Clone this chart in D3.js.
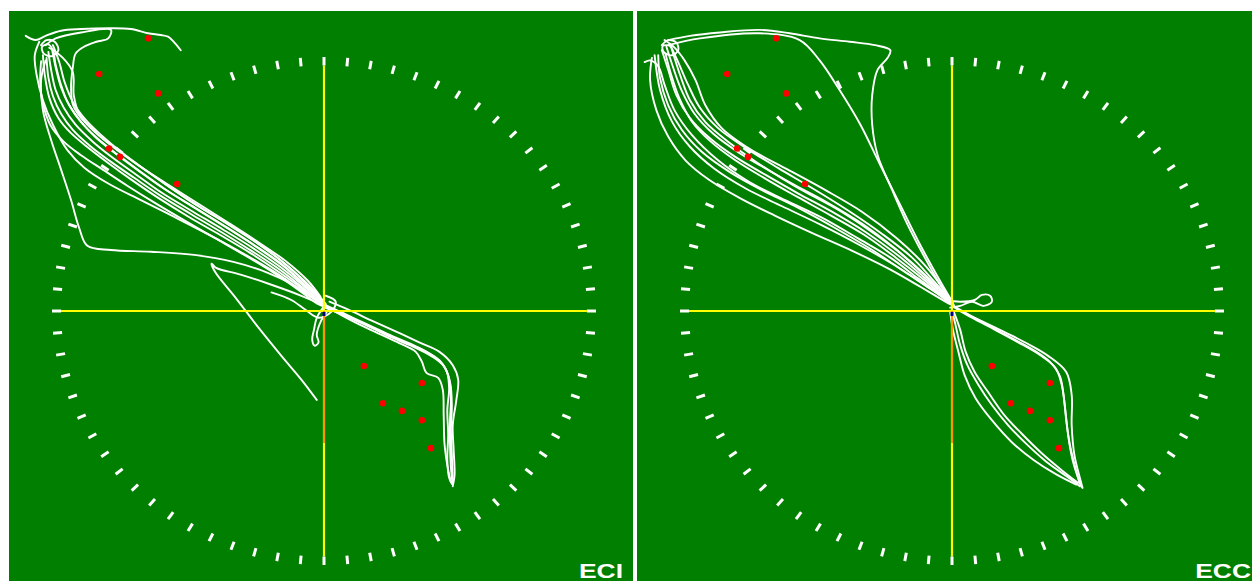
<!DOCTYPE html>
<html>
<head>
<meta charset="utf-8">
<script src="https://cdn.jsdelivr.net/npm/d3@7"></script>
<style>
  html, body { margin: 0; padding: 0; background: #ffffff; overflow: hidden; }
  svg { display: block; }
</style>
</head>
<body>
<svg id="chart" width="1252" height="581"></svg>
<script>
// Target positions (degrees), shared by both panels
const targets = [
  [-19.4, 32.2], [-24.8, 28.0], [-18.3, 25.7], [-23.7, 19.2], [-22.5, 18.2], [-16.2, 15.0],
  [4.4, -6.5], [10.8, -8.5], [6.5, -10.9], [8.6, -11.8], [10.8, -12.9], [11.8, -16.2]
];

// Vertical reference trace below fixation
const verticalTrace = [[0, 0], [0, -15.6]];

// Panel names
const panelLabels = ["ECI", "ECC"];

// Gaze traces, ECI condition (degrees)
const eciTraces = [
  [[-30.4,30.6],[-30.1,28.5],[-29.6,26.1],[-28.7,24.0],[-27.4,22.0],[-25.5,20.0],[-23.3,18.1],[-20.7,16.1],[-17.8,13.9],[-14.4,11.7],[-11.1,9.6],[-7.8,7.4],[-4.7,5.1],[-2.3,3.0],[-0.6,1.3],[0.2,0.6]],
  [[-29.9,31.4],[-29.2,29.4],[-28.6,27.0],[-27.7,24.7],[-26.3,22.6],[-24.5,20.7],[-22.4,18.8],[-19.9,16.8],[-17.0,14.6],[-13.7,12.3],[-10.4,10.1],[-7.2,7.9],[-4.2,5.5],[-2.0,3.3],[-0.5,1.6],[0.2,0.8]],
  [[-31.0,30.2],[-30.8,27.9],[-30.3,25.2],[-29.3,22.8],[-27.9,21.0],[-25.9,19.2],[-23.7,17.4],[-21.1,15.4],[-18.2,13.3],[-14.9,11.1],[-11.5,9.0],[-8.2,6.9],[-5.1,4.7],[-2.5,2.7],[-0.7,1.1],[0.3,0.5]],
  [[-30.0,30.9],[-29.6,28.8],[-29.0,26.4],[-28.1,24.3],[-26.8,22.3],[-25.0,20.4],[-22.8,18.5],[-20.3,16.5],[-17.4,14.3],[-14.0,12.0],[-10.7,9.8],[-7.5,7.6],[-4.5,5.3],[-2.2,3.1],[-0.5,1.4],[0.1,0.7]],
  [[-30.6,29.9],[-30.4,27.6],[-29.9,25.4],[-29.0,23.3],[-27.7,21.4],[-25.8,19.5],[-23.6,17.7],[-20.9,15.7],[-18.0,13.6],[-14.6,11.4],[-11.3,9.3],[-8.0,7.1],[-4.9,4.9],[-2.4,2.8],[-0.6,1.2],[0.2,0.5]],
  [[-30.3,31.1],[-28.8,29.9],[-27.7,28.2],[-27.6,25.5],[-27.0,23.3],[-25.5,21.4],[-23.5,19.6],[-21.0,17.6],[-18.0,15.4],[-14.8,13.0],[-11.4,10.8],[-8.0,8.5],[-4.8,6.0],[-2.2,3.6],[-0.4,1.6],[0.1,0.9]],
  [[-31.2,29.5],[-31.3,27.0],[-31.0,24.5],[-30.2,22.0],[-28.8,20.1],[-26.8,18.4],[-24.4,16.7],[-21.7,14.8],[-18.7,12.8],[-15.4,10.7],[-12.0,8.6],[-8.6,6.5],[-5.4,4.4],[-2.7,2.4],[-0.8,0.9],[0.3,0.4]],
  [[-31.4,31.8],[-31.9,30.2],[-31.7,27.9],[-31.0,24.9],[-29.9,22.0],[-28.3,19.0],[-26.4,16.9],[-23.7,15.0],[-20.2,13.1],[-16.3,11.0],[-12.5,8.9],[-8.6,6.6],[-5.0,4.3],[-2.2,2.2],[-0.3,0.9]],
  [[-30.7,29.6],[-31.2,27.3],[-31.0,23.7],[-30.1,20.2],[-29.0,16.7],[-27.9,13.1],[-27.0,9.8],[-26.1,7.7],[-23.5,7.2],[-19.1,7.0],[-14.1,6.6],[-10.0,5.8],[-6.4,4.6],[-3.4,3.1],[-0.9,1.3]],
  [[-32.9,32.5],[-31.8,32.0],[-30.7,32.5],[-29.0,33.1],[-26.8,33.3],[-23.5,33.4],[-21.3,33.3],[-19.4,32.8],[-18.0,32.6],[-17.2,32.4],[-16.5,31.7],[-15.8,30.8]],
  [[-30.7,31.4],[-29.6,32.2],[-26.8,32.9],[-23.5,33.2],[-23.8,32.2],[-25.1,31.8],[-26.5,31.2],[-27.4,30.4],[-27.7,28.8],[-27.9,26.5],[-27.7,24.4],[-26.8,22.8],[-25.1,21.0],[-22.9,19.1],[-20.3,17.1],[-17.3,15.0],[-13.9,12.7],[-10.5,10.4],[-7.2,8.1],[-4.1,5.8],[-1.8,3.6],[-0.4,1.7]],
  [[-31.2,31.4],[-30.6,32.0],[-29.7,31.8],[-29.3,30.8],[-30.0,30.1],[-30.9,30.4],[-31.1,31.2],[-30.4,31.5],[-29.9,30.8],[-29.6,29.1],[-29.0,26.7],[-28.2,24.5],[-26.9,22.5],[-25.2,20.5],[-23.0,18.6],[-20.5,16.6],[-17.6,14.4],[-14.2,12.2],[-10.9,10.0],[-7.7,7.8],[-4.6,5.5],[-2.2,3.2],[-0.5,1.5],[0.1,0.8]],
  [[-0.1,0.7],[-2.5,1.8],[-5.8,3.1],[-9.2,4.3],[-11.9,5.1],[-12.4,5.6],[-12.0,4.6],[-9.7,1.5],[-7.2,-2.0],[-4.7,-5.3],[-2.5,-8.1],[-0.8,-10.5]],
  [[-0.1,0.4],[-0.8,-0.8],[-1.1,-2.2],[-1.3,-3.4],[-1.0,-4.1],[-0.6,-3.7],[-0.8,-2.8],[-0.3,-1.1],[0.3,-0.1]],
  [[-5.8,2.2],[-3.6,1.3],[-2.0,0.1],[-0.6,-0.8],[0.8,-0.1],[1.3,1.1],[0.2,1.8]],
  [[-0.1,0.8],[1.4,0.1],[3.2,-0.8],[5.4,-1.9],[7.6,-3.0],[9.8,-4.0],[11.6,-5.0],[12.9,-6.0],[13.7,-7.6],[14.0,-9.9],[13.9,-12.9],[13.9,-15.8],[14.0,-18.5],[14.2,-20.5]],
  [[0.2,0.6],[2.1,-0.4],[4.3,-1.5],[6.7,-2.7],[8.9,-3.7],[10.9,-4.6],[12.5,-5.7],[13.5,-7.0],[13.8,-9.1],[13.6,-11.7],[13.7,-14.6],[13.6,-17.6],[13.8,-19.7],[14.1,-20.4]],
  [[0.6,1.1],[2.8,0.1],[5.2,-1.1],[7.9,-2.4],[10.5,-3.7],[12.7,-4.8],[14.2,-6.4],[14.8,-8.1],[14.6,-10.5],[14.2,-13.5],[14.3,-16.4],[14.4,-19.4],[14.2,-20.7]],
  [[0.8,0.2],[3.0,-1.1],[5.7,-2.5],[8.3,-3.8],[10.1,-4.8],[10.8,-6.0],[11.3,-7.3],[12.6,-7.9],[13.1,-9.3],[13.2,-12.3],[13.3,-15.8],[13.7,-18.8],[14.0,-20.2]],
  [[0.1,0.4],[2.4,-0.6],[5.0,-1.8],[7.4,-3.1],[9.6,-4.1],[11.8,-5.3],[13.2,-6.5],[13.9,-8.4],[14.1,-11.1],[14.0,-14.0],[14.1,-17.0],[14.2,-20.0]]
];

// Gaze traces, ECC condition (degrees)
const eccTraces = [
  [[-31.3,32.0],[-28.9,32.5],[-25.6,32.9],[-21.2,33.2],[-17.9,32.8],[-14.6,32.2],[-11.3,31.8],[-8.5,31.4],[-6.8,30.8],[-7.1,29.9],[-8.2,28.5],[-8.8,25.5],[-8.8,22.0],[-8.2,18.4],[-6.6,14.3],[-4.9,10.2],[-3.0,6.3],[-1.3,3.1],[-0.2,1.3]],
  [[-31.3,31.4],[-27.8,32.2],[-21.2,32.8],[-16.8,32.0],[-14.6,29.6],[-12.4,26.1],[-10.1,22.0],[-7.9,17.2],[-5.7,12.5],[-3.5,7.8],[-1.5,3.9],[-0.2,1.5]],
  [[-32.0,30.8],[-31.3,28.5],[-30.4,25.5],[-28.9,22.8],[-26.7,20.4],[-23.9,18.2],[-20.6,16.1],[-17.0,13.9],[-13.2,11.7],[-9.5,9.3],[-6.0,6.6],[-3.0,3.9],[-0.8,1.8],[0.1,0.9]],
  [[-31.6,30.4],[-31.0,28.0],[-30.1,25.2],[-28.7,22.4],[-26.6,20.0],[-23.9,17.8],[-20.7,15.7],[-17.1,13.5],[-13.4,11.3],[-9.7,9.0],[-6.2,6.3],[-3.1,3.7],[-0.9,1.7],[0.1,0.8]],
  [[-31.5,31.2],[-30.8,28.9],[-29.8,26.0],[-28.4,23.3],[-26.3,20.9],[-23.5,18.7],[-20.2,16.6],[-16.6,14.3],[-12.8,12.1],[-9.2,9.6],[-5.8,6.9],[-2.9,4.1],[-0.8,1.9],[0.1,0.9]],
  [[-31.1,31.5],[-30.2,29.4],[-29.1,26.7],[-27.8,24.0],[-25.8,21.6],[-22.8,19.3],[-19.2,16.9],[-15.4,14.5],[-11.5,11.9],[-7.7,9.1],[-4.4,6.3],[-1.9,3.4],[-0.2,1.3]],
  [[-32.4,30.2],[-32.2,27.5],[-31.3,24.3],[-29.8,21.4],[-27.6,18.8],[-24.5,16.4],[-21.0,14.3],[-17.0,12.2],[-12.9,9.8],[-8.8,7.2],[-5.2,4.6],[-2.2,2.5],[-0.1,0.8]],
  [[-33.1,29.9],[-33.3,27.3],[-32.6,23.7],[-31.3,20.6],[-29.4,17.8],[-26.8,15.5],[-23.5,13.4],[-19.6,11.3],[-15.4,9.2],[-11.0,7.1],[-7.0,5.0],[-3.4,2.8],[-0.4,0.9]],
  [[-31.7,32.0],[-30.6,31.1],[-29.5,29.6],[-28.3,27.3],[-27.2,24.3],[-25.4,21.6],[-22.1,19.0],[-18.1,16.7],[-14.0,14.3],[-9.9,11.7],[-6.1,8.6],[-2.9,5.3],[-0.7,2.2],[0.2,0.7]],
  [[-32.0,31.4],[-31.3,32.0],[-30.4,31.7],[-30.2,30.8],[-30.9,30.2],[-31.8,30.6],[-31.9,31.3],[-31.1,31.3],[-30.7,30.2],[-30.0,27.9],[-28.9,24.9],[-27.2,22.3],[-24.7,20.0],[-21.6,17.6],[-17.9,15.2],[-13.9,12.9],[-9.9,10.3],[-6.3,7.4],[-3.3,4.6],[-1.1,2.2],[0.0,1.1]],
  [[-33.9,29.4],[-33.3,29.6],[-32.4,28.9],[-31.7,26.7],[-30.6,23.7],[-28.7,20.8],[-25.8,17.8],[-22.3,15.2],[-18.4,13.1],[-14.3,11.0],[-10.4,8.6],[-6.8,6.3],[-3.8,3.9],[-1.3,1.9],[-0.2,0.8]],
  [[-32.8,30.2],[-32.2,26.1],[-30.9,22.4],[-28.9,19.4],[-26.2,16.8],[-22.8,14.5],[-18.8,12.4],[-14.5,10.2],[-10.2,7.8],[-6.0,5.2],[-2.5,2.7],[-0.2,1.1]],
  [[-0.8,1.3],[0.9,1.1],[2.5,1.3],[3.3,1.9],[4.2,1.8],[4.4,1.1],[3.5,0.6],[2.2,1.1],[0.9,0.6],[-0.2,0.4]],
  [[0.0,0.7],[1.8,-0.4],[4.2,-1.8],[6.6,-3.2],[9.0,-4.6],[10.8,-6.0],[11.9,-7.7],[12.3,-9.9],[12.6,-12.9],[13.0,-15.8],[13.6,-18.5],[14.1,-20.4]],
  [[0.3,0.4],[2.2,-0.8],[4.7,-2.2],[7.3,-3.7],[9.7,-5.2],[11.4,-6.7],[12.1,-8.7],[12.5,-11.7],[12.8,-14.6],[13.3,-17.6],[14.0,-20.0],[14.3,-20.8]],
  [[0.7,0.1],[3.1,-1.1],[5.8,-2.5],[8.4,-3.9],[10.6,-5.3],[12.6,-7.2],[13.2,-9.9],[13.2,-13.5],[13.5,-17.0],[14.1,-19.7],[14.4,-20.9]],
  [[0.0,0.1],[0.4,-1.7],[0.9,-4.0],[1.7,-6.4],[2.9,-8.7],[4.4,-11.1],[6.2,-13.5],[8.2,-15.7],[10.4,-17.8],[12.6,-19.5],[14.1,-20.7]],
  [[0.2,-0.1],[0.9,-2.2],[1.5,-4.8],[2.5,-7.2],[4.0,-9.6],[5.7,-12.2],[7.7,-14.5],[9.9,-16.8],[12.1,-18.8],[13.9,-20.3]],
  [[-0.2,-0.1],[0.1,-2.2],[0.7,-4.8],[1.4,-7.6],[2.6,-10.3],[4.4,-12.9],[6.6,-15.5],[9.0,-17.6],[11.5,-19.3],[13.7,-20.5]]
];

// Tick directions around the field (every 5 degrees of polar angle)
const tickAngles = d3.range(0, 360, 5);

const svg = d3.select("#chart");
const panelW = 624, panelH = 600;
const panels = [
  { x: 9, y: 11, traces: eciTraces, label: panelLabels[0] },
  { x: 637, y: 11, traces: eccTraces, label: panelLabels[1] }
];

const x = d3.scaleLinear().domain([-30, 30]).range([315 - 272, 315 + 272]);
const y = d3.scaleLinear().domain([-30, 30]).range([300 + 254, 300 - 254]);
const line = d3.line().x(d => x(d[0])).y(d => y(d[1])).curve(d3.curveCatmullRom.alpha(0.5));

panels.forEach((p, i) => {
  const clipId = "clip" + i;
  svg.append("clipPath").attr("id", clipId)
    .append("rect").attr("x", p.x).attr("y", p.y).attr("width", panelW).attr("height", panelH);

  const g = svg.append("g")
    .attr("clip-path", `url(#${clipId})`)
    .append("g")
    .attr("transform", `translate(${p.x},${p.y})`);

  g.append("rect").attr("width", panelW).attr("height", panelH).attr("fill", "#007f00");

  // gaze traces
  g.append("g").selectAll("path").data(p.traces).join("path")
    .attr("d", line)
    .attr("fill", "none")
    .attr("stroke", "#ffffff")
    .attr("stroke-width", 1.9)
    .attr("stroke-linejoin", "round")
    .attr("stroke-linecap", "round");

  // axes through fixation
  g.append("line")
    .attr("x1", x(-29)).attr("x2", x(29)).attr("y1", y(0)).attr("y2", y(0))
    .attr("stroke", "#ffff00").attr("stroke-width", 2);
  g.append("line")
    .attr("x1", x(0)).attr("x2", x(0)).attr("y1", y(29)).attr("y2", y(-29))
    .attr("stroke", "#ffff00").attr("stroke-width", 2.2);

  // vertical reference trace
  g.append("path").datum(verticalTrace)
    .attr("d", d3.line().x(d => x(d[0])).y(d => y(d[1])))
    .attr("stroke", "#ff2a00").attr("stroke-width", 1).attr("fill", "none");

  // radial ticks on the 30 degree ring
  g.append("g").selectAll("line").data(tickAngles).join("line")
    .attr("x1", a => x(29 * Math.cos(a * Math.PI / 180)))
    .attr("y1", a => y(29 * Math.sin(a * Math.PI / 180)))
    .attr("x2", a => x(30 * Math.cos(a * Math.PI / 180)))
    .attr("y2", a => y(30 * Math.sin(a * Math.PI / 180)))
    .attr("stroke", "#ffffff").attr("stroke-width", 3);

  // targets
  g.append("g").selectAll("circle").data(targets).join("circle")
    .attr("cx", d => x(d[0])).attr("cy", d => y(d[1])).attr("r", 3.3)
    .attr("fill", "#ff0000");

  // fixation marker
  g.append("rect")
    .attr("x", x(0) - 1.5).attr("y", y(0) + 1).attr("width", 3).attr("height", 4)
    .attr("fill", "#000080");

  // panel label, set in a wide bold face
  g.append("g")
    .attr("transform", `translate(${panelW - 10},567) scale(1.26,1)`)
    .append("text")
    .attr("text-anchor", "end")
    .attr("font-family", "'Liberation Sans', Arial, sans-serif")
    .attr("font-weight", "bold")
    .attr("font-size", 21)
    .attr("fill", "#ffffff")
    .text(p.label);
});
</script>
</body>
</html>
